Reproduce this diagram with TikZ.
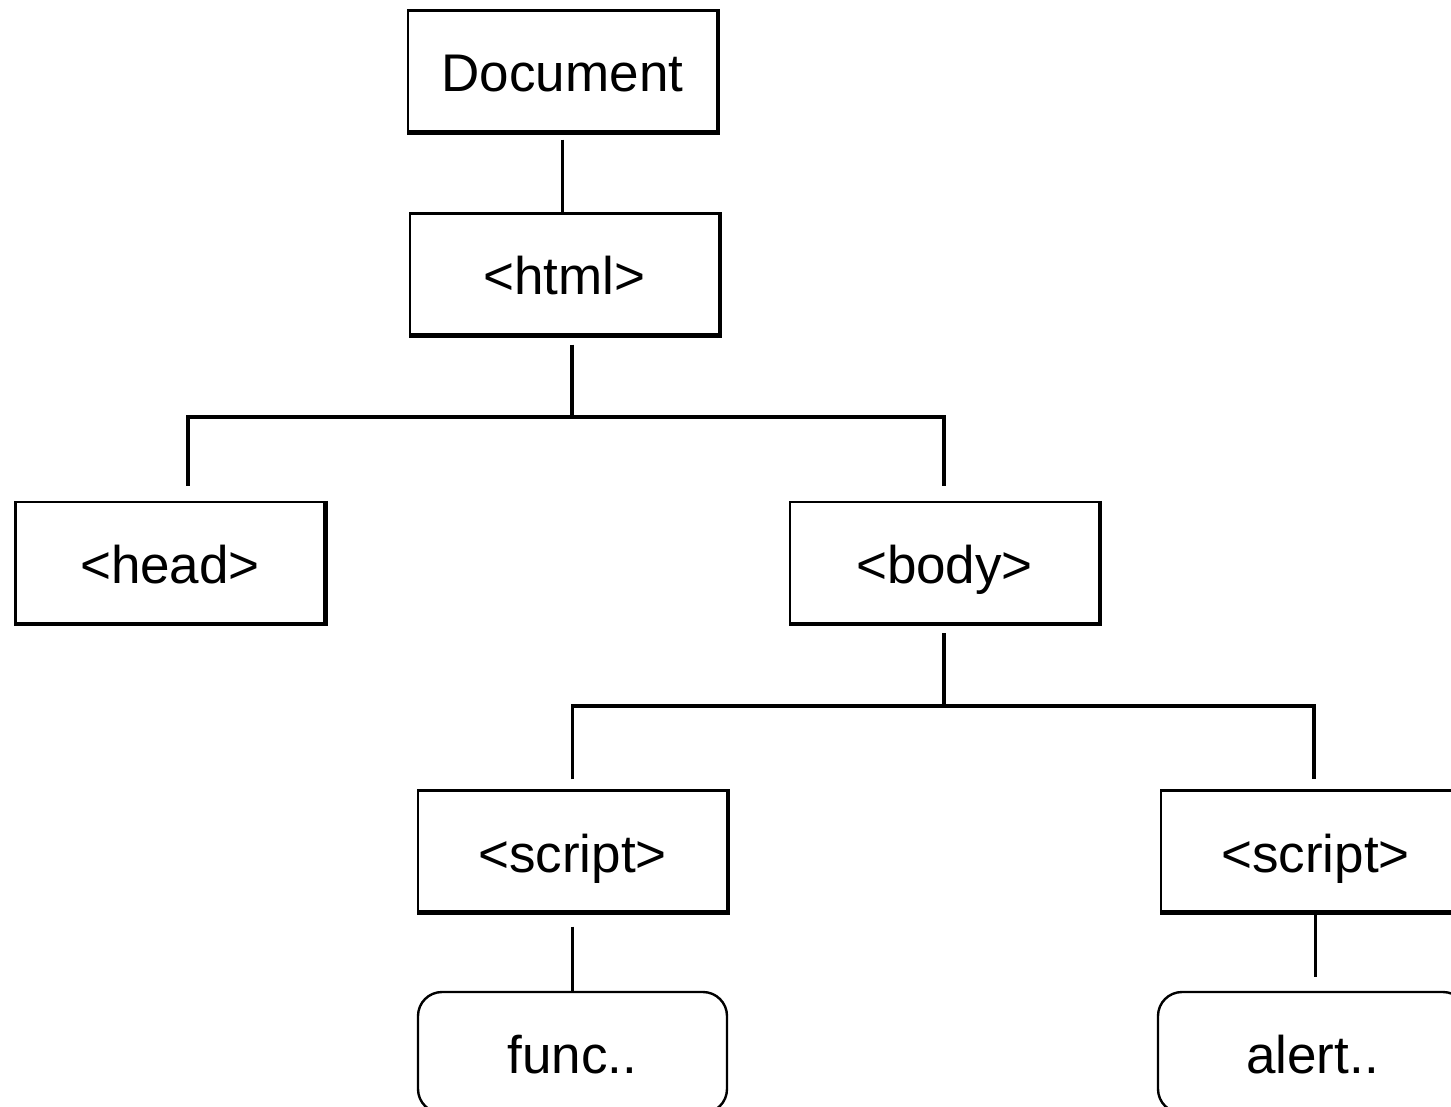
\documentclass[tikz,border=0pt]{standalone}
\usepackage{fontspec}
\setmainfont{Liberation Sans}
\usetikzlibrary{calc}
\begin{document}
\begin{tikzpicture}[x=0.5pt,y=-0.5pt,
 box/.style={draw, line width=1.2pt, minimum width=154.5pt, minimum height=60.5pt, inner sep=0pt, text height=21pt, text depth=0pt, font=\fontsize{26.5pt}{30pt}\selectfont},
 rbox/.style={box, rounded corners=12pt},
 conn/.style={line width=1.6pt},
 edge/.style={line width=2.2pt, line join=miter}]
\clip (0,0) rectangle (1451,1107);
\node[box] (doc) at (562.5,71) {Document};
\node[box] (html) at (564.5,274) {<html>};
\node[box] (head) at (170,562.5) {<head>};
\node[box] (body) at (944.5,562.5) {<body>};
\node[box] (s1) at (572.5,851) {<script>};
\node[box] (s2) at (1315.5,851) {<script>};
\node[rbox] (f) at (572.5,1052.5) {func..};
\node[rbox] (a) at (1312.5,1052.5) {alert..};
\foreach \n in {doc,html,head,body,s1,s2}
  \draw[edge] (\n.north east) -- (\n.south east) -- (\n.south west);
\coordinate (b1) at (572,417);
\coordinate (b2) at (944,706);
\draw[conn] ($(doc.south)+(0,7)$) -- (doc.south |- html.north);
\draw[conn] ($(html.south -| b1)+(0,9)$) -- (b1);
\draw[conn] ($(head.north)+(18,-15)$) |- (b1) -| ($(body.north -| b2)+(0,-15)$);
\draw[conn] ($(body.south -| b2)+(0,9)$) -- (b2);
\draw[conn] ($(s1.north)+(0,-10)$) |- (b2) -| ($(s2.north)+(-1.5,-10)$);
\draw[conn] ($(s1.south)+(0,14)$) -- (f.north);
\draw[conn] (s2.south) -- ($(a.north)+(3,-14)$);
\end{tikzpicture}
\end{document}
